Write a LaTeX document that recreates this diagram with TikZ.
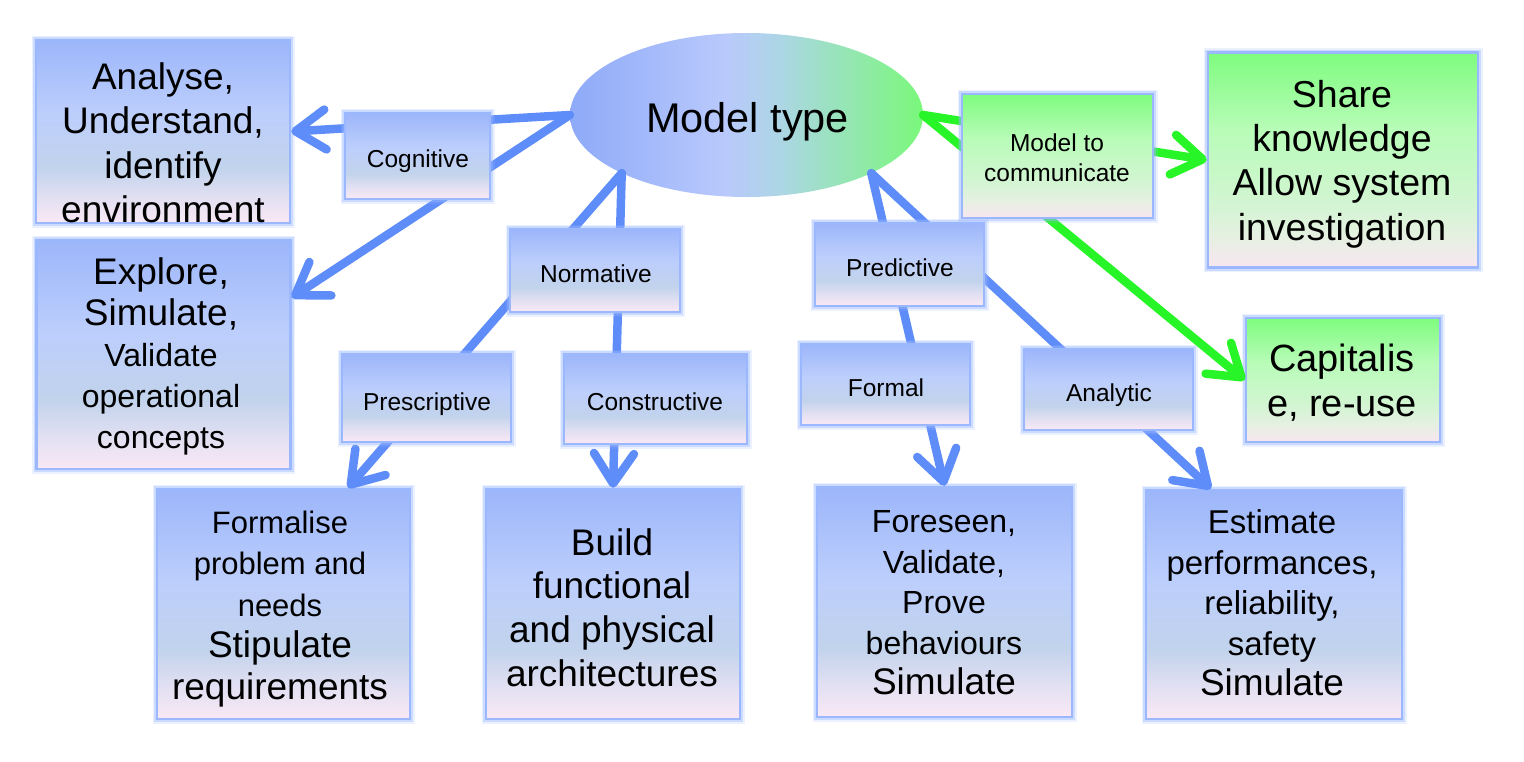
\documentclass[tikz,border=0pt]{standalone}
\usepackage{fontspec}
\setmainfont{Liberation Sans}
\usetikzlibrary{arrows.meta,shapes.geometric}
\definecolor{bT}{RGB}{156,182,250}
\definecolor{bM}{RGB}{188,206,252}
\definecolor{bL}{RGB}{194,211,236}
\definecolor{bP}{RGB}{226,224,242}
\definecolor{bB}{RGB}{250,232,245}
\definecolor{gT}{RGB}{126,252,126}
\definecolor{gM}{RGB}{184,252,184}
\definecolor{gL}{RGB}{210,245,210}
\definecolor{gP}{RGB}{230,240,226}
\definecolor{gB}{RGB}{247,230,240}
\definecolor{eL}{RGB}{142,170,248}
\definecolor{eM}{RGB}{185,201,252}
\definecolor{eN}{RGB}{172,214,228}
\definecolor{eR}{RGB}{122,248,122}
\definecolor{glowc}{RGB}{155,184,255}
\definecolor{lineb}{RGB}{94,140,248}
\definecolor{lineg}{RGB}{40,245,40}
\pgfdeclareverticalshading{bluegrad}{100bp}{color(0bp)=(bB); color(25bp)=(bB); color(32bp)=(bP); color(40bp)=(bL); color(55bp)=(bM); color(75bp)=(bT); color(100bp)=(bT)}
\pgfdeclareverticalshading{greengrad}{100bp}{color(0bp)=(gB); color(25bp)=(gB); color(32bp)=(gP); color(40bp)=(gL); color(57bp)=(gM); color(75bp)=(gT); color(100bp)=(gT)}
\pgfdeclarehorizontalshading{ellgrad}{100bp}{color(0bp)=(eL); color(25bp)=(eL); color(47bp)=(eM); color(55bp)=(eN); color(75bp)=(eR); color(100bp)=(eR)}
\tikzset{
  glowbox/.style={rectangle, inner sep=0pt,
    preaction={draw=glowc, draw opacity=0.2, line width=9pt},
    preaction={draw=glowc, draw opacity=0.4, line width=6pt},
    draw=glowc, line width=2.5pt},
  bbox/.style={glowbox, shade, shading=bluegrad},
  gbox/.style={glowbox, shade, shading=greengrad},
  conn/.style={line width=8.5pt, line cap=round, -{Straight Barb[length=30pt,width=40pt,round]}},
  bconn/.style={conn, draw=lineb},
  gconn/.style={conn, draw=lineg},
  txt/.style={align=center, inner sep=0pt, text=black},
  lbl/.style={inner sep=0pt, text=black, anchor=base, font=\fontsize{24.5}{29}\selectfont},
}
\begin{document}
\begin{tikzpicture}[x=1pt,y=-1pt]
\useasboundingbox (0,0) rectangle (1524,761);
% big boxes
\node[bbox, minimum width=254pt, minimum height=183pt] (a1) at (163,131.5) {};
\node[bbox, minimum width=254pt, minimum height=229pt] (a2) at (163.5,354.5) {};
\node[bbox, minimum width=253pt, minimum height=230pt] (fo) at (283.5,604) {};
\node[bbox, minimum width=254pt, minimum height=230pt] (bu) at (613,604) {};
\node[bbox, minimum width=255pt, minimum height=230pt] (fs) at (944.5,602) {};
\node[bbox, minimum width=256pt, minimum height=229pt] (es) at (1274,604.5) {};
\node[gbox, minimum width=270pt, minimum height=215pt] (sh) at (1343,160) {};
\node[gbox, minimum width=194pt, minimum height=124pt] (ca) at (1343,380) {};
% ellipse
\node[ellipse, minimum width=353pt, minimum height=164pt, inner sep=0pt, shade, shading=ellgrad] (ell) at (746.5,115) {};
% connectors
\draw[bconn] (ell.west) -- (a1.east);
\draw[bconn] (ell.west) -- ([yshift=57pt]a2.east);
\draw[bconn] (ell.205) -- ([xshift=64.5pt]fo.north);
\draw[bconn] (ell.205) -- (bu.north);
\draw[bconn] (ell.335) -- (fs.north);
\draw[bconn] (ell.335) -- ([xshift=-63pt]es.north);
\draw[gconn] (ell.east) -- (sh.west);
\draw[gconn] (ell.east) -- (ca.west);
% label boxes
\node[bbox, minimum width=145pt, minimum height=86pt] (cog) at (417.5,156) {};
\node[bbox, minimum width=170pt, minimum height=83pt] (nor) at (595,270.5) {};
\node[bbox, minimum width=169pt, minimum height=83pt] (pre) at (899.5,264.5) {};
\node[gbox, minimum width=191pt, minimum height=124pt] (mtc) at (1057.5,156) {};
\node[bbox, minimum width=169pt, minimum height=88pt] (psc) at (426.5,398) {};
\node[bbox, minimum width=183pt, minimum height=90pt] (con) at (655.5,399) {};
\node[bbox, minimum width=169pt, minimum height=81pt] (frm) at (885.5,384.5) {};
\node[bbox, minimum width=169pt, minimum height=81pt] (ana) at (1108.5,389.5) {};
% texts
\node[inner sep=0pt, anchor=base, font=\fontsize{41.5}{48}\selectfont] (ellt) at (747.5,132) {Model type};
\node[lbl] (cogt) at (418,167) {Cognitive};
\node[lbl] (nort) at (596,282) {Normative};
\node[lbl] (pret) at (900,276) {Predictive};
\node[lbl] (psct) at (427,410) {Prescriptive};
\node[lbl] (cont) at (655,410) {Constructive};
\node[lbl] (frmt) at (886,396) {Formal};
\node[lbl] (anat) at (1109,401) {Analytic};
\node[txt, font=\fontsize{24.5}{29.5}\selectfont] (mtct) at (1057,157.5) {Model to\\communicate};
\node[txt, font=\fontsize{37}{44.5}\selectfont] (a1t) at (163,143) {Analyse,\\Understand,\\identify\\environment};
\node[txt, font=\fontsize{37}{41}\selectfont] (a2t) at (161,356) {Explore,\\Simulate,\\{\fontsize{32}{41}\selectfont Validate}\\{\fontsize{32}{41}\selectfont operational}\\{\fontsize{32}{41}\selectfont concepts}};
\node[txt, font=\fontsize{37}{41.5}\selectfont] (fot) at (280,609) {{\fontsize{31}{41.5}\selectfont Formalise}\\{\fontsize{31}{41.5}\selectfont problem and}\\{\fontsize{31}{41.5}\selectfont needs}\\Stipulate\\requirements};
\node[txt, font=\fontsize{37}{43.7}\selectfont] (but) at (612,607.5) {Build\\functional\\and physical\\architectures};
\node[txt, font=\fontsize{37}{40.5}\selectfont] (fst) at (944,603) {{\fontsize{32}{40.5}\selectfont Foreseen,}\\{\fontsize{32}{40.5}\selectfont Validate,}\\{\fontsize{32}{40.5}\selectfont Prove}\\{\fontsize{32}{40.5}\selectfont behaviours}\\Simulate};
\node[txt, font=\fontsize{37}{40.5}\selectfont] (est) at (1272,603) {{\fontsize{33}{40.5}\selectfont Estimate}\\{\fontsize{33}{40.5}\selectfont performances,}\\{\fontsize{33}{40.5}\selectfont reliability,}\\{\fontsize{33}{40.5}\selectfont safety}\\Simulate};
\node[txt, font=\fontsize{37.5}{44.3}\selectfont] (sht) at (1342,164) {Share\\knowledge\\Allow system\\investigation};
\node[txt, font=\fontsize{38}{45}\selectfont] (cat) at (1342,383) {Capitalis\\e, re-use};
\end{tikzpicture}
\end{document}
